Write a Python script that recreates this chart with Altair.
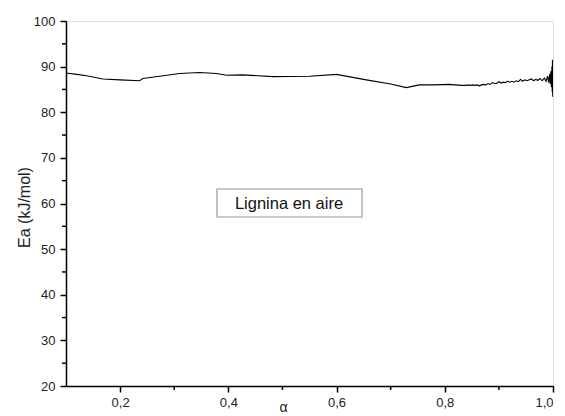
import altair as alt
import pandas as pd

# Smooth part + noisy tail of the Ea vs alpha curve
alpha = [0.100, 0.120, 0.138, 0.168, 0.200, 0.236, 0.242, 0.273, 0.310, 0.347,
         0.378, 0.397, 0.426, 0.482, 0.550, 0.600, 0.655, 0.700, 0.729, 0.753,
         0.780, 0.808, 0.830,
         0.840, 0.844, 0.848, 0.852, 0.856, 0.860, 0.864, 0.868, 0.872, 0.876,
         0.880, 0.884, 0.888, 0.892, 0.896, 0.900, 0.904, 0.908, 0.912, 0.916,
         0.920, 0.924, 0.928, 0.932, 0.936, 0.940, 0.944, 0.948, 0.952, 0.956,
         0.960, 0.964, 0.968, 0.972, 0.976, 0.980, 0.984, 0.987, 0.990, 0.992,
         0.994, 0.995, 0.996, 0.997, 0.998, 0.9985, 0.999, 0.9995, 1.000]
ea = [88.6, 88.3, 88.0, 87.3, 87.1, 86.9, 87.4, 87.9, 88.5, 88.7,
      88.5, 88.1, 88.2, 87.8, 87.9, 88.3, 87.1, 86.2, 85.4, 86.0,
      86.0, 86.1, 85.9,
      85.9, 86.0, 85.9, 86.0, 85.9, 86.0, 85.8, 86.0, 86.1, 86.0,
      86.3, 86.1, 86.5, 86.3, 86.3, 86.7, 86.4, 86.6, 86.5, 86.8,
      86.6, 86.8, 86.6, 86.9, 86.7, 87.2, 86.8, 87.1, 86.9, 87.1,
      87.3, 86.9, 87.2, 87.0, 87.4, 86.9, 87.5, 86.8, 87.9, 86.5,
      88.4, 86.2, 89.0, 85.5, 90.0, 84.5, 91.5, 83.4, 87.2]

x_ticks = [0.2, 0.4, 0.6, 0.8, 1.0]
x_minor = [0.3, 0.5, 0.7, 0.9]
y_ticks = [20, 30, 40, 50, 60, 70, 80, 90, 100]
y_minor = [25, 35, 45, 55, 65, 75, 85, 95]
legend_label = ["Lignina en aire"]

W, H = 487, 365
FONT = "Liberation Sans"
LABEL_COLOR = "#222222"

df = pd.DataFrame({"alpha": alpha, "ea": ea, "i": range(len(alpha))})

xscale = alt.Scale(domain=[0.1, 1.0], nice=False, zero=False)
yscale = alt.Scale(domain=[20, 100], nice=False, zero=False)

line = alt.Chart(df).mark_line(color="black", strokeWidth=1.1, clip=True).encode(
    x=alt.X("alpha:Q", scale=xscale,
            axis=alt.Axis(values=x_ticks, title="α",
                          labelExpr="replace(format(datum.value, '.1f'), '.', ',')",
                          tickSize=6, tickWidth=1.5, domainWidth=1.5,
                          domainColor="black", tickColor="black",
                          labelFont=FONT, labelFontSize=13, labelColor=LABEL_COLOR,
                          labelPadding=4, grid=False,
                          titleFont=FONT, titleFontSize=14, titleFontWeight="normal",
                          titleColor=LABEL_COLOR, titleX=217, titleY=21,
                          titleBaseline="middle", titleAlign="center")),
    y=alt.Y("ea:Q", scale=yscale,
            axis=alt.Axis(values=y_ticks, title="Ea (kJ/mol)", format="d",
                          tickSize=6, tickWidth=1.5, domainWidth=1.5,
                          domainColor="black", tickColor="black",
                          labelFont=FONT, labelFontSize=13, labelColor=LABEL_COLOR,
                          labelPadding=5, grid=False,
                          titleFont=FONT, titleFontSize=16, titleFontWeight="normal",
                          titleColor=LABEL_COLOR, titleX=-42, titleY=186,
                          titleAngle=-90, titleBaseline="middle", titleAlign="center")),
    order="i:Q",
)

xminor = alt.Chart(pd.DataFrame({"v": x_minor})).mark_rule(
    color="black", strokeWidth=1.5, clip=False
).encode(
    x=alt.X("v:Q", scale=xscale),
    y=alt.value(H), y2=alt.value(H + 4),
)

yminor = alt.Chart(pd.DataFrame({"v": y_minor})).mark_rule(
    color="black", strokeWidth=1.5, clip=False
).encode(
    y=alt.Y("v:Q", scale=yscale),
    x=alt.value(0), x2=alt.value(-4),
)

box = alt.Chart(pd.DataFrame({"t": legend_label})).mark_rect(
    fill="white", stroke="#999999", strokeWidth=1.2
).encode(
    x=alt.value(151), x2=alt.value(296), y=alt.value(168), y2=alt.value(196)
)

txt = alt.Chart(pd.DataFrame({"t": legend_label})).mark_text(
    font=FONT, fontSize=16.5, color="#111111", align="center", baseline="middle"
).encode(
    x=alt.value(223), y=alt.value(183), text="t:N"
)

chart = alt.layer(line, xminor, yminor, box, txt).properties(
    width=W, height=H,
    autosize=alt.AutoSizeParams(type="none"),
    padding={"left": 66, "top": 21, "right": 12, "bottom": 30},
).configure_view(stroke=None).configure(background="white")

chart.save("out.html", embed_options={"renderer": "svg", "actions": False})
